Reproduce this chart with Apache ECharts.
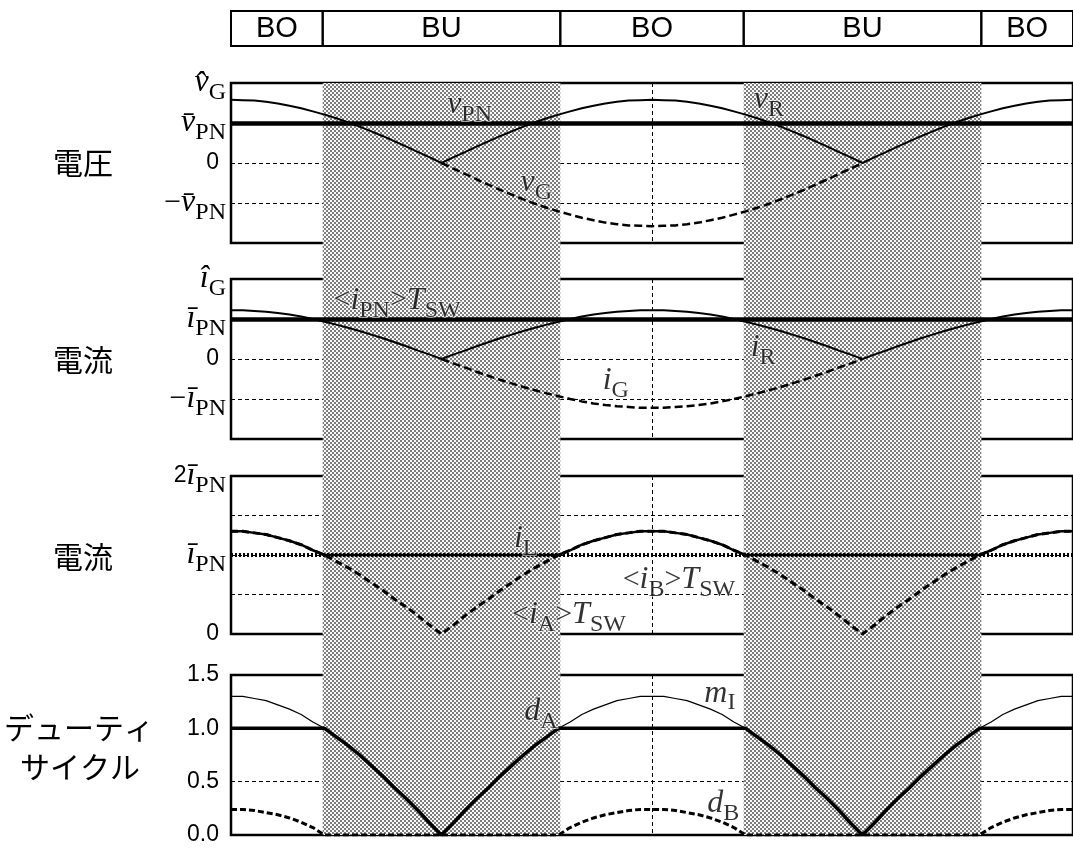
<!DOCTYPE html>
<html>
<head>
<meta charset="utf-8">
<script src="https://cdn.jsdelivr.net/npm/echarts@6/dist/echarts.min.js"></script>
<style>
  html, body { margin: 0; padding: 0; background: #fff; }
  #chart { width: 1073px; height: 850px; }
</style>
</head>
<body>
<div id="chart"></div>
<script>
// Phase angle (deg) over one grid period
const theta = [0,5,10,15,20,25,30,35,40,45,50,55,60,65,70,75,80,85,90,
  95,100,105,110,115,120,125,130,135,140,145,150,155,160,165,170,175,180,
  185,190,195,200,205,210,215,220,225,230,235,240,245,250,255,260,265,270,
  275,280,285,290,295,300,305,310,315,320,325,330,335,340,345,350,355,360];

// Operating mode bands (BO = boost, BU = buck)
const modeEdges = [0, 39.2, 140.8, 219.2, 320.8, 360];
const modeNames = ['BO', 'BU', 'BO', 'BU', 'BO'];

// Voltage panel (units of mean DC voltage)
const vGabs = [1.58,1.57,1.56,1.53,1.49,1.43,1.37,1.29,1.21,1.12,1.02,0.91,0.79,0.67,0.54,0.41,0.27,0.14,0,
  0.14,0.27,0.41,0.54,0.67,0.79,0.91,1.02,1.12,1.21,1.29,1.37,1.43,1.49,1.53,1.56,1.57,1.58,
  1.57,1.56,1.53,1.49,1.43,1.37,1.29,1.21,1.12,1.02,0.91,0.79,0.67,0.54,0.41,0.27,0.14,0,
  0.14,0.27,0.41,0.54,0.67,0.79,0.91,1.02,1.12,1.21,1.29,1.37,1.43,1.49,1.53,1.56,1.57,1.58];
const vGneg = [null,null,null,null,null,null,null,null,null,null,null,null,null,null,null,null,null,null,0,
  -0.14,-0.27,-0.41,-0.54,-0.67,-0.79,-0.91,-1.02,-1.12,-1.21,-1.29,-1.37,-1.43,-1.49,-1.53,-1.56,-1.57,-1.58,
  -1.57,-1.56,-1.53,-1.49,-1.43,-1.37,-1.29,-1.21,-1.12,-1.02,-0.91,-0.79,-0.67,-0.54,-0.41,-0.27,-0.14,0,
  null,null,null,null,null,null,null,null,null,null,null,null,null,null,null,null,null,null];
const vPNmean = 1;

// Grid current panel (units of mean DC current)
const iGabs = [1.22,1.22,1.20,1.18,1.15,1.11,1.06,1.00,0.93,0.86,0.78,0.70,0.61,0.52,0.42,0.32,0.21,0.11,0,
  0.11,0.21,0.32,0.42,0.52,0.61,0.70,0.78,0.86,0.93,1.00,1.06,1.11,1.15,1.18,1.20,1.22,1.22,
  1.22,1.20,1.18,1.15,1.11,1.06,1.00,0.93,0.86,0.78,0.70,0.61,0.52,0.42,0.32,0.21,0.11,0,
  0.11,0.21,0.32,0.42,0.52,0.61,0.70,0.78,0.86,0.93,1.00,1.06,1.11,1.15,1.18,1.20,1.22,1.22];
const iGneg = [null,null,null,null,null,null,null,null,null,null,null,null,null,null,null,null,null,null,0,
  -0.11,-0.21,-0.32,-0.42,-0.52,-0.61,-0.70,-0.78,-0.86,-0.93,-1.00,-1.06,-1.11,-1.15,-1.18,-1.20,-1.22,-1.22,
  -1.22,-1.20,-1.18,-1.15,-1.11,-1.06,-1.00,-0.93,-0.86,-0.78,-0.70,-0.61,-0.52,-0.42,-0.32,-0.21,-0.11,0,
  null,null,null,null,null,null,null,null,null,null,null,null,null,null,null,null,null,null];
const iPNmean = 1;

// Inductor / switch currents
const iL = [1.30,1.30,1.28,1.26,1.22,1.18,1.13,1.06,1,1,1,1,1,1,1,1,1,1,1,
  1,1,1,1,1,1,1,1,1,1,1.06,1.13,1.18,1.22,1.26,1.28,1.30,1.30,
  1.30,1.28,1.26,1.22,1.18,1.13,1.06,1,1,1,1,1,1,1,1,1,1,1,
  1,1,1,1,1,1,1,1,1,1,1.06,1.13,1.18,1.22,1.26,1.28,1.30,1.30];
const iAavg = [1.30,1.30,1.28,1.26,1.22,1.18,1.13,1.06,1.00,0.92,0.84,0.75,0.65,0.55,0.44,0.34,0.23,0.11,0,
  0.11,0.23,0.34,0.44,0.55,0.65,0.75,0.84,0.92,1.00,1.06,1.13,1.18,1.22,1.26,1.28,1.30,1.30,
  1.30,1.28,1.26,1.22,1.18,1.13,1.06,1.00,0.92,0.84,0.75,0.65,0.55,0.44,0.34,0.23,0.11,0,
  0.11,0.23,0.34,0.44,0.55,0.65,0.75,0.84,0.92,1.00,1.06,1.13,1.18,1.22,1.26,1.28,1.30,1.30];
const iBavg = 1;

// Duty cycles and modulation index
const mI = [1.30,1.30,1.28,1.26,1.22,1.18,1.13,1.06,1.00,0.92,0.84,0.75,0.65,0.55,0.44,0.34,0.23,0.11,0,
  0.11,0.23,0.34,0.44,0.55,0.65,0.75,0.84,0.92,1.00,1.06,1.13,1.18,1.22,1.26,1.28,1.30,1.30,
  1.30,1.28,1.26,1.22,1.18,1.13,1.06,1.00,0.92,0.84,0.75,0.65,0.55,0.44,0.34,0.23,0.11,0,
  0.11,0.23,0.34,0.44,0.55,0.65,0.75,0.84,0.92,1.00,1.06,1.13,1.18,1.22,1.26,1.28,1.30,1.30];
const dA = [1,1,1,1,1,1,1,1,1.00,0.92,0.84,0.75,0.65,0.55,0.44,0.34,0.23,0.11,0,
  0.11,0.23,0.34,0.44,0.55,0.65,0.75,0.84,0.92,1.00,1,1,1,1,1,1,1,1,
  1,1,1,1,1,1,1,1.00,0.92,0.84,0.75,0.65,0.55,0.44,0.34,0.23,0.11,0,
  0.11,0.23,0.34,0.44,0.55,0.65,0.75,0.84,0.92,1.00,1,1,1,1,1,1,1,1];
const dB = [0.24,0.24,0.23,0.21,0.19,0.16,0.12,0.07,0,0,0,0,0,0,0,0,0,0,0,
  0,0,0,0,0,0,0,0,0,0,0.07,0.12,0.16,0.19,0.21,0.23,0.24,0.24,
  0.24,0.23,0.21,0.19,0.16,0.12,0.07,0,0,0,0,0,0,0,0,0,0,0,
  0,0,0,0,0,0,0,0,0,0,0.07,0.12,0.16,0.19,0.21,0.23,0.24,0.24];

// Axis tick labels (rich-text markup)
const voltTicks = { '2': '{it|v\u0302}{sub|G}', '1': '{it|v\u0304}{sub|PN}', '0': '{num|0}', '-1': '{rm|\u2212}{it|v\u0304}{sub|PN}', '-2': '' };
const currTicks = { '2': '{it|\u00ee}{sub|G}', '1': '{it|\u012b}{sub|PN}', '0': '{num|0}', '-1': '{rm|\u2212}{it|\u012b}{sub|PN}', '-2': '' };
const swTicks = { '2': '{num2|2}{it|\u012b}{sub|PN}', '1': '{it|\u012b}{sub|PN}', '0': '{num|0}', '0.5': '', '1.5': '' };
const dutyTicks = { '0': '{num|0.0}', '0.5': '{num|0.5}', '1': '{num|1.0}', '1.5': '{num|1.5}' };

const pair = arr => theta.map((t, k) => [t, arr[k] === null ? '-' : arr[k]]);

// Halftone fill for the buck-mode bands
const tile = document.createElement('canvas');
tile.width = 4; tile.height = 4;
const tg = tile.getContext('2d');
tg.fillStyle = '#f8f8f8'; tg.fillRect(0, 0, 4, 4);
tg.fillStyle = '#7c7c7c'; tg.fillRect(0, 0, 2, 2); tg.fillRect(2, 2, 2, 2);

const rich = {
  it:  { fontFamily: 'Liberation Serif', fontStyle: 'italic', fontSize: 32, lineHeight: 44, color: '#000' },
  rm:  { fontFamily: 'Liberation Serif', fontSize: 30, lineHeight: 44, color: '#000' },
  sub: { fontFamily: 'Liberation Serif', fontSize: 24, lineHeight: 10, verticalAlign: 'bottom', color: '#000' },
  num: { fontFamily: 'Liberation Sans', fontSize: 23, lineHeight: 44, color: '#000', padding: [0, 7, 0, 0] },
  num2:{ fontFamily: 'Liberation Sans', fontSize: 23, lineHeight: 44, color: '#000' }
};

const L = 231, R = -3;
const panels = [
  { top: 83,  height: 160, min: -2, max: 2,   step: 1,   ticks: voltTicks },
  { top: 279, height: 160, min: -2, max: 2,   step: 1,   ticks: currTicks },
  { top: 476, height: 158, min: 0,  max: 2,   step: 0.5, ticks: swTicks },
  { top: 675, height: 160, min: 0,  max: 1.5, step: 0.5, ticks: dutyTicks }
];

const grids = [{ left: L, right: R, top: 83, height: 752 }];
const xAxes = [{ gridIndex: 0, type: 'value', min: 0, max: 360, show: false }];
const yAxes = [{ gridIndex: 0, type: 'value', min: 0, max: 1, show: false }];

panels.forEach((p, n) => {
  grids.push({ left: L, right: R, top: p.top, height: p.height, show: true,
    borderColor: '#000', borderWidth: 2.5, backgroundColor: 'rgba(0,0,0,0)' });
  xAxes.push({ gridIndex: n + 1, type: 'value', min: 0, max: 360, interval: 90,
    axisLine: { show: false }, axisTick: { show: false }, axisLabel: { show: false },
    splitLine: { show: true, lineStyle: { color: '#000', width: 1, type: [4, 3] } } });
  yAxes.push({ gridIndex: n + 1, type: 'value', min: p.min, max: p.max, interval: p.step,
    axisLine: { show: false }, axisTick: { show: false },
    axisLabel: { show: true, margin: 5, formatter: v => p.ticks[String(v)] || '', rich: rich },
    splitLine: { show: true, lineStyle: { color: '#000', width: 1, type: [4, 3] } } });
});

// Header band
grids.push({ left: L, right: R, top: 11, height: 35 });
xAxes.push({ gridIndex: 5, type: 'value', min: 0, max: 360, show: false });
yAxes.push({ gridIndex: 5, type: 'value', min: 0, max: 1, show: false });

const bands = [];
const heads = [];
modeNames.forEach((m, k) => {
  heads.push([{ name: m, xAxis: modeEdges[k] }, { xAxis: modeEdges[k + 1] }]);
  if (m === 'BU') bands.push([{ xAxis: modeEdges[k] }, { xAxis: modeEdges[k + 1] }]);
});

function line(gi, arr, width, type, z) {
  return { type: 'line', xAxisIndex: gi, yAxisIndex: gi, data: pair(arr), symbol: 'none',
    connectNulls: false, silent: true, z: z || 3,
    lineStyle: { color: '#000', width: width, type: type || 'solid' } };
}
function hline(gi, value, width, type) {
  return { type: 'line', xAxisIndex: gi, yAxisIndex: gi, data: [], silent: true,
    markLine: { silent: true, symbol: 'none', label: { show: false }, animation: false,
      lineStyle: { color: '#000', width: width, type: type || 'solid' },
      data: [{ yAxis: value }] } };
}
function notes(gi, items) {
  return { type: 'scatter', xAxisIndex: gi, yAxisIndex: gi, silent: true, z: 5,
    symbol: 'rect', symbolSize: 1, itemStyle: { color: 'rgba(0,0,0,0)' },
    data: items.map(it => ({ value: [it[0], it[1]],
      label: { show: true, position: 'inside', formatter: it[2], rich: rich,
        textBorderColor: 'rgba(255,255,255,0.7)', textBorderWidth: 2 } })) };
}

const series = [
  { type: 'line', xAxisIndex: 0, yAxisIndex: 0, data: [], z: -1, silent: true,
    markArea: { silent: true, itemStyle: { color: { image: tile, repeat: 'repeat' } }, data: bands } },
  { type: 'line', xAxisIndex: 5, yAxisIndex: 5, data: [], silent: true,
    markArea: { silent: true,
      itemStyle: { color: 'rgba(0,0,0,0)', borderColor: '#000', borderWidth: 2 },
      label: { show: true, position: 'inside', formatter: '{b}', color: '#000',
        fontFamily: 'Liberation Sans', fontSize: 29 },
      data: heads } },

  // Voltage
  hline(1, vPNmean, 4.5),
  line(1, vGabs, 2),
  line(1, vGneg, 2.5, [8, 4]),
  notes(1, [[102, 1.46, '{it|v}{sub|PN}'], [130.5, -0.5, '{it|v}{sub|G}'], [230, 1.58, '{it|v}{sub|R}']]),

  // Grid current
  hline(2, iPNmean, 4.5),
  line(2, iGabs, 2),
  line(2, iGneg, 2.5, [8, 4]),
  notes(2, [[71, 1.46, '{rm|<}{it|i}{sub|PN}{rm|>}{it|T}{sub|SW}'], [227.5, 0.28, '{it|i}{sub|R}'], [164.5, -0.54, '{it|i}{sub|G}']]),

  // Switch currents
  hline(3, iBavg, 4, [2, 2]),
  line(3, iL, 2.5),
  line(3, iAavg, 3, [7, 4]),
  notes(3, [[126, 1.21, '{it|i}{sub|L}'], [191.5, 0.685, '{rm|<}{it|i}{sub|B}{rm|>}{it|T}{sub|SW}'], [144.5, 0.24, '{rm|<}{it|i}{sub|A}{rm|>}{it|T}{sub|SW}']]),

  // Duty cycles
  line(4, mI, 1.2),
  line(4, dA, 3.5),
  line(4, dB, 3, [6, 3]),
  notes(4, [[209, 1.33, '{it|m}{sub|I}'], [210.5, 0.29, '{it|d}{sub|B}'], [132.5, 1.155, '{it|d}{sub|A}']])
];

const sideFont = '30px "Noto Sans CJK JP"';
const graphic = [
  { type: 'text', x: 83, y: 163, style: { text: '電圧', font: sideFont, fill: '#000', align: 'center', verticalAlign: 'middle' } },
  { type: 'text', x: 83, y: 360, style: { text: '電流', font: sideFont, fill: '#000', align: 'center', verticalAlign: 'middle' } },
  { type: 'text', x: 83, y: 557, style: { text: '電流', font: sideFont, fill: '#000', align: 'center', verticalAlign: 'middle' } },
  { type: 'text', x: 79, y: 728, style: { text: 'デューティ', font: sideFont, fill: '#000', align: 'center', verticalAlign: 'middle' } },
  { type: 'text', x: 80, y: 767, style: { text: 'サイクル', font: sideFont, fill: '#000', align: 'center', verticalAlign: 'middle' } }
];

const chart = echarts.init(document.getElementById('chart'), null, { renderer: 'canvas' });
chart.setOption({
  animation: false,
  backgroundColor: '#fff',
  grid: grids, xAxis: xAxes, yAxis: yAxes,
  series: series,
  graphic: graphic
});
</script>
</body>
</html>
